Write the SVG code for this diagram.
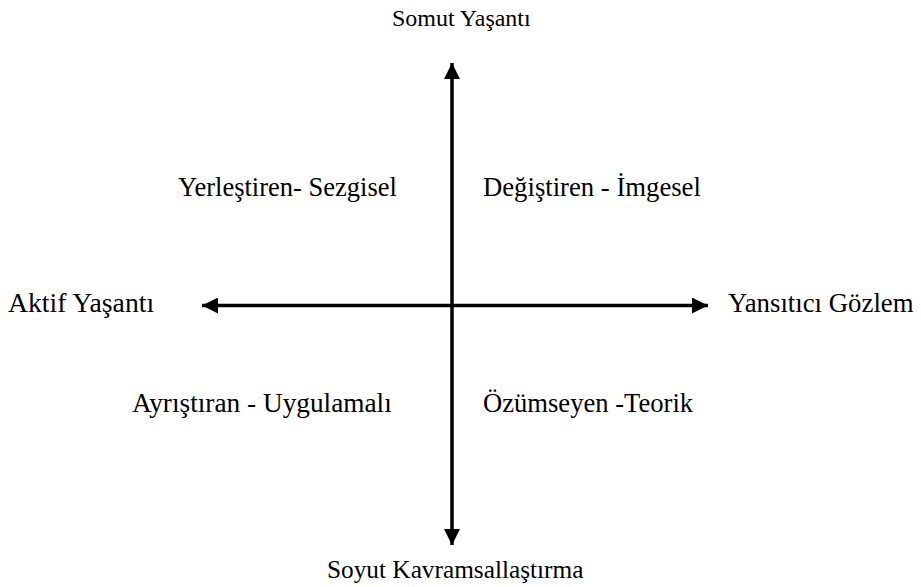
<svg xmlns="http://www.w3.org/2000/svg" width="921" height="587" viewBox="0 0 921 587">
  <style>
    .lbl { fill: #000; }
    .axis { stroke: #000; stroke-width: 3.5; fill: none; }
  </style>
  <defs>
    <marker id="head" markerUnits="userSpaceOnUse" markerWidth="16" markerHeight="16" viewBox="0 0 16 16" refX="16" refY="8" orient="auto-start-reverse">
      <path d="M0,0 L16,8 L0,16 Z" fill="#000"/>
    </marker>
  </defs>
  <rect width="921" height="587" fill="#fff"/>
  <!-- the two axes, double-headed -->
  <g id="connectors">
    <line class="axis" x1="452" y1="63" x2="452" y2="545" marker-start="url(#head)" marker-end="url(#head)"/>
    <line class="axis" x1="202" y1="305.5" x2="708" y2="305.5" marker-start="url(#head)" marker-end="url(#head)"/>
  </g>
  <g id="labels" font-family="Liberation Serif, serif">
    <g id="somut"><text class="lbl" font-size="24" x="392" y="26">Somut Yaşantı</text></g>
    <g id="yerlestiren"><text class="lbl" font-size="26.5" x="178" y="196">Yerleştiren- Sezgisel</text></g>
    <g id="degistiren"><text class="lbl" font-size="26.7" x="483" y="196">Değiştiren - İmgesel</text></g>
    <g id="aktif"><text class="lbl" font-size="27.7" x="8" y="312">Aktif Yaşantı</text></g>
    <g id="yansitici"><text class="lbl" font-size="26.8" x="728" y="312">Yansıtıcı Gözlem</text></g>
    <g id="ayristiran"><text class="lbl" font-size="27.3" x="132" y="412">Ayrıştıran - Uygulamalı</text></g>
    <g id="ozumseyen"><text class="lbl" font-size="26.6" x="483" y="412">Özümseyen -Teorik</text></g>
    <g id="soyut"><text class="lbl" font-size="25.3" x="327" y="578">Soyut Kavramsallaştırma</text></g>
  </g>
</svg>
